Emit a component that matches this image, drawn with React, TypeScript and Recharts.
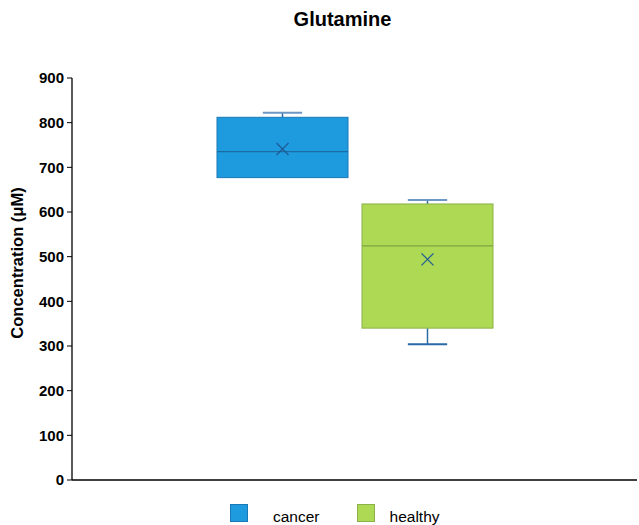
import React from "react";
import {
  ComposedChart,
  Bar,
  XAxis,
  YAxis,
  Label,
} from "recharts";

const groups = ["cancer", "healthy"];
const mins = [677, 304];
const q1s = [677, 340];
const medians = [735, 524];
const q3s = [812, 618];
const maxs = [822, 627];
const means = [741, 494];
const yTicks = [0, 100, 200, 300, 400, 500, 600, 700, 800, 900];

const fills = ["#1E9BDE", "#ADD955"];
const borders = ["#1B78B4", "#8BB048"];
const medianColors = ["#1A6CA3", "#7FA341"];
const whiskerColor = "#2A6AA6";
const capColor = "#6E98C4";

// one category, each group a [min, max] range bar drawn as a box
const row: Record<string, any> = { name: "Glutamine" };
groups.forEach((g, i) => {
  row[g] = [mins[i], maxs[i]];
});
const data = [row];

const makeBox = (i: number) => (props: any) => {
  const { x, y, width, height } = props;
  const top = Math.min(y, y + height);
  const bottom = Math.max(y, y + height);
  const span = bottom - top;
  const lo = mins[i];
  const hi = maxs[i];
  const py = (v: number) => (hi === lo ? top : top + ((hi - v) / (hi - lo)) * span);
  const cx = x + width / 2;
  const cap = width * 0.15;
  const yq1 = py(q1s[i]);
  const yq3 = py(q3s[i]);
  const ymed = py(medians[i]);
  const ymean = py(means[i]);
  const ymax = py(maxs[i]);
  const ymin = py(mins[i]);
  const m = 6;
  return (
    <g>
      {ymax < yq3 && (
        <>
          <line x1={cx} x2={cx} y1={ymax} y2={yq3} stroke={whiskerColor} strokeWidth={1.5} />
          <line x1={cx - cap} x2={cx + cap} y1={ymax} y2={ymax} stroke={capColor} strokeWidth={2} />
        </>
      )}
      {ymin > yq1 && (
        <>
          <line x1={cx} x2={cx} y1={yq1} y2={ymin} stroke={whiskerColor} strokeWidth={1.5} />
          <line x1={cx - cap} x2={cx + cap} y1={ymin} y2={ymin} stroke={whiskerColor} strokeWidth={2} />
        </>
      )}
      <rect
        x={x}
        y={yq3}
        width={width}
        height={yq1 - yq3}
        fill={fills[i]}
        stroke={borders[i]}
        strokeWidth={1}
      />
      <line x1={x} x2={x + width} y1={ymed} y2={ymed} stroke={medianColors[i]} strokeWidth={1.2} />
      <line x1={cx - m} x2={cx + m} y1={ymean - m} y2={ymean + m} stroke="#1F5A96" strokeWidth={1.2} />
      <line x1={cx - m} x2={cx + m} y1={ymean + m} y2={ymean - m} stroke="#1F5A96" strokeWidth={1.2} />
    </g>
  );
};

const YLabel = () => (
  <text
    x={17}
    y={263}
    transform="rotate(-90 17 263)"
    textAnchor="middle"
    dominantBaseline="central"
    fontSize={16.5}
    fontWeight="bold"
    fill="#000"
  >
    Concentration (μM)
  </text>
);

const legendGaps = [25, 15];
const legendAfter = [37, 0];

export default function App() {
  return (
    <div
      style={{
        position: "absolute",
        left: 0,
        top: 0,
        width: 639,
        height: 525,
        background: "#fff",
        fontFamily: "'Liberation Sans', Arial, sans-serif",
      }}
    >
      <div
        style={{
          position: "absolute",
          top: 7,
          width: 639,
          left: 23,
          textAlign: "center",
          fontSize: 20,
          fontWeight: "bold",
          lineHeight: "24px",
        }}
      >
        Glutamine
      </div>
      <ComposedChart
        width={639}
        height={525}
        data={data}
        margin={{ top: 78, right: 2, bottom: 44, left: 0 }}
        barSize={131}
        barGap={14}
      >
        <XAxis
          dataKey="name"
          tick={false}
          tickLine={false}
          height={1}
          axisLine={{ stroke: "#000", strokeWidth: 1.3 }}
        />
        <YAxis
          width={72}
          domain={[0, 900]}
          ticks={yTicks}
          interval={0}
          tickSize={5}
          tickMargin={3}
          axisLine={{ stroke: "#000", strokeWidth: 1.3 }}
          tickLine={{ stroke: "#000" }}
          tick={{ fill: "#000", fontSize: 15, fontWeight: "bold" }}
        >
          <Label content={<YLabel />} />
        </YAxis>
        {groups.map((g, i) => (
          <Bar key={g} dataKey={g} isAnimationActive={false} shape={makeBox(i)} />
        ))}
      </ComposedChart>
      <div
        style={{
          position: "absolute",
          top: 504,
          left: 230,
          display: "flex",
          alignItems: "center",
          fontSize: 15.5,
        }}
      >
        {groups.map((g, i) => (
          <div key={g} style={{ display: "flex", alignItems: "center", marginRight: legendAfter[i] }}>
            <span
              style={{
                width: 18,
                height: 18,
                background: fills[i],
                border: `1px solid ${borders[i]}`,
                marginRight: legendGaps[i],
                boxSizing: "border-box",
              }}
            />
            <span style={{ position: "relative", top: 4 }}>{g}</span>
          </div>
        ))}
      </div>
    </div>
  );
}
